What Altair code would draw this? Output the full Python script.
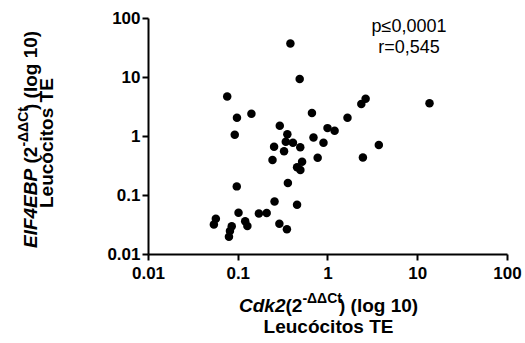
import altair as alt
import pandas as pd

# Data
cdk2 = [0.386, 0.490, 0.0763, 0.098, 0.142, 0.671, 2.38, 2.66, 13.7, 1.67,
        0.0926, 0.294, 0.357, 1.0, 1.20, 0.698, 0.343, 0.412, 0.902, 0.254,
        0.497, 0.328, 3.73, 2.48, 0.777, 0.244, 0.521, 0.458, 0.499, 0.362,
        0.0975, 0.257, 0.458, 0.102, 0.172, 0.210, 0.0570, 0.0542, 0.0857, 0.0819,
        0.0798, 0.121, 0.128, 0.291, 0.353]
eif4ebp = [37.0, 9.25, 4.67, 2.03, 2.39, 2.45, 3.49, 4.29, 3.58, 2.03,
           1.05, 1.49, 1.07, 1.36, 1.23, 0.944, 0.80, 0.767, 0.769, 0.659,
           0.643, 0.552, 0.703, 0.433, 0.429, 0.392, 0.366, 0.294, 0.266, 0.160,
           0.140, 0.0777, 0.0686, 0.0499, 0.0484, 0.0495, 0.0395, 0.0316, 0.0294, 0.0245,
           0.0196, 0.0360, 0.0298, 0.0326, 0.0262]
tick_values = [0.01, 0.1, 1, 10, 100]
x_title_gene = "Cdk2"
y_title_gene = "EIF4EBP"
title_open = "(2"
title_sup = "-ΔΔCt"
title_close = ") (log 10)"
title_line2 = "Leucócitos TE"
stats_lines = ["p≤0,0001", "r=0,545"]

FONT = "Liberation Sans"
W, H = 359, 236

df = pd.DataFrame({"cdk2": cdk2, "eif4ebp": eif4ebp})
one = pd.DataFrame({"k": [0]})

points = alt.Chart(df).mark_circle(size=72, color="black", opacity=1).encode(
    x=alt.X("cdk2:Q", scale=alt.Scale(type="log", domain=[0.01, 100], nice=False),
            axis=alt.Axis(values=tick_values, format="~g", title=None, labelFlush=False)),
    y=alt.Y("eif4ebp:Q", scale=alt.Scale(type="log", domain=[0.01, 100], nice=False),
            axis=alt.Axis(values=tick_values, format="~g", title=None, labelFlush=False)),
)


def txt(s, x, y, size=19, weight="bold", style="normal", align="left", angle=0, baseline="alphabetic"):
    kw = dict(font=FONT, fontSize=size, fontWeight=weight, fontStyle=style,
              align=align, baseline=baseline, color="black")
    if angle:
        kw["angle"] = angle
    return alt.Chart(one).mark_text(**kw).encode(
        x=alt.value(x), y=alt.value(y), text=alt.value(s))


# x-axis title pieces (relative to plot origin)
xb = 294
xs = 91
xt = [
    txt(x_title_gene, xs, xb, style="italic"),
    txt(title_open, xs + 46.5, xb),
    txt(title_sup, xs + 63.4, xb - 9, size=14),
    txt(title_close, xs + 100, xb),
    txt(title_line2, W / 2 + 1, 315, align="center"),
]

# y-axis title pieces (rotated)
yb = -111
ys = 230
yt = [
    txt(y_title_gene, yb, ys, style="italic", angle=270),
    txt(title_open, yb, ys - 84.5, angle=270),
    txt(title_sup, yb - 9, ys - 101.4, size=14, angle=270),
    txt(title_close, yb, ys - 138, angle=270),
    txt(title_line2, -95, 190, angle=270),
]

stats = [
    txt(stats_lines[0], 261, 14, size=18, weight="normal", align="center"),
    txt(stats_lines[1], 261, 35, size=18, weight="normal", align="center"),
]

chart = alt.layer(points, *xt, *yt, *stats).properties(
    width=W, height=H,
    autosize=alt.AutoSizeParams(type="none"),
    padding={"left": 148, "top": 18, "right": 18, "bottom": 89},
    background="white",
).configure_view(stroke=None).configure_axis(
    grid=False,
    domainColor="black", domainWidth=2,
    tickColor="black", tickWidth=2, tickSize=6,
    labelFont=FONT, labelFontSize=17, labelFontWeight="bold", labelColor="black",
).configure_axisX(labelPadding=5).configure_axisY(labelPadding=2)

chart.save("out.html", embed_options={"renderer": "svg", "actions": False})
